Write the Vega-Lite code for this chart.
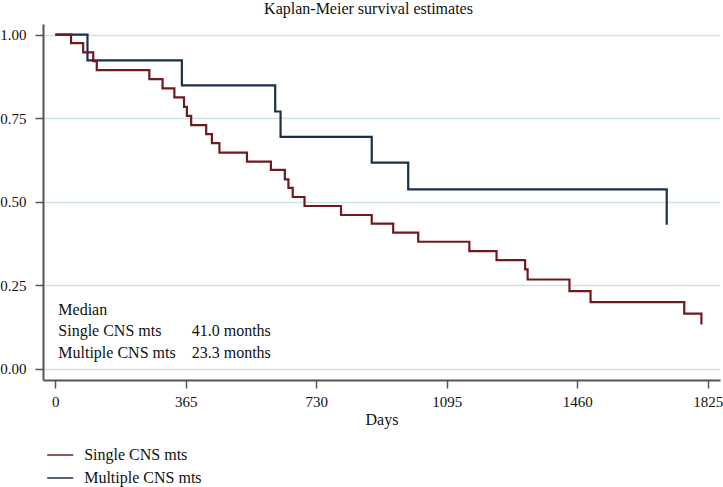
{
  "$schema": "https://vega.github.io/schema/vega-lite/v6.json",
  "width": 677,
  "height": 356,
  "autosize": {"type": "none"},
  "padding": {"left": 43, "top": 24, "right": 3, "bottom": 107},
  "background": "white",
  "config": {"font": "Liberation Serif", "view": {"stroke": null}},
  "title": {"text": "Kaplan-Meier survival estimates", "fontSize": 16, "fontWeight": "normal", "font": "Liberation Serif", "color": "#111111", "anchor": "middle", "dx": -13, "offset": 7},
  "datasets": {
    "km": [
      {"group": "Multiple CNS mts", "day": 0, "surv": 1.0},
      {"group": "Multiple CNS mts", "day": 90, "surv": 0.923},
      {"group": "Multiple CNS mts", "day": 354, "surv": 0.848},
      {"group": "Multiple CNS mts", "day": 615, "surv": 0.770},
      {"group": "Multiple CNS mts", "day": 630, "surv": 0.694},
      {"group": "Multiple CNS mts", "day": 885, "surv": 0.617},
      {"group": "Multiple CNS mts", "day": 987, "surv": 0.537},
      {"group": "Multiple CNS mts", "day": 1710, "surv": 0.431},
      {"group": "Single CNS mts", "day": 0, "surv": 1.0},
      {"group": "Single CNS mts", "day": 44, "surv": 0.975},
      {"group": "Single CNS mts", "day": 78, "surv": 0.947},
      {"group": "Single CNS mts", "day": 106, "surv": 0.921},
      {"group": "Single CNS mts", "day": 116, "surv": 0.894},
      {"group": "Single CNS mts", "day": 263, "surv": 0.867},
      {"group": "Single CNS mts", "day": 300, "surv": 0.839},
      {"group": "Single CNS mts", "day": 333, "surv": 0.812},
      {"group": "Single CNS mts", "day": 360, "surv": 0.784},
      {"group": "Single CNS mts", "day": 368, "surv": 0.757},
      {"group": "Single CNS mts", "day": 380, "surv": 0.729},
      {"group": "Single CNS mts", "day": 422, "surv": 0.702},
      {"group": "Single CNS mts", "day": 438, "surv": 0.675},
      {"group": "Single CNS mts", "day": 459, "surv": 0.647},
      {"group": "Single CNS mts", "day": 536, "surv": 0.620},
      {"group": "Single CNS mts", "day": 603, "surv": 0.595},
      {"group": "Single CNS mts", "day": 642, "surv": 0.567},
      {"group": "Single CNS mts", "day": 652, "surv": 0.541},
      {"group": "Single CNS mts", "day": 664, "surv": 0.514},
      {"group": "Single CNS mts", "day": 697, "surv": 0.487},
      {"group": "Single CNS mts", "day": 799, "surv": 0.460},
      {"group": "Single CNS mts", "day": 885, "surv": 0.434},
      {"group": "Single CNS mts", "day": 945, "surv": 0.407},
      {"group": "Single CNS mts", "day": 1015, "surv": 0.380},
      {"group": "Single CNS mts", "day": 1158, "surv": 0.352},
      {"group": "Single CNS mts", "day": 1234, "surv": 0.325},
      {"group": "Single CNS mts", "day": 1314, "surv": 0.297},
      {"group": "Single CNS mts", "day": 1321, "surv": 0.267},
      {"group": "Single CNS mts", "day": 1438, "surv": 0.232},
      {"group": "Single CNS mts", "day": 1497, "surv": 0.199},
      {"group": "Single CNS mts", "day": 1759, "surv": 0.165},
      {"group": "Single CNS mts", "day": 1807, "surv": 0.132}
    ],
    "note": [
      {"label": "Median", "day": 8.4, "surv": 0.177},
      {"label": "Single CNS mts", "day": 8.4, "surv": 0.112},
      {"label": "Multiple CNS mts", "day": 8.4, "surv": 0.048},
      {"label": "41.0 months", "day": 381.5, "surv": 0.112},
      {"label": "23.3 months", "day": 381.5, "surv": 0.048}
    ]
  },
  "layer": [
    {
      "mark": {"type": "rule", "color": "#d6e5e7", "strokeWidth": 1.5},
      "encoding": {"x": {"datum": 1859, "type": "quantitative"}}
    },
    {
      "data": {"name": "km"},
      "transform": [{"filter": "datum.group === 'Multiple CNS mts'"}],
      "mark": {"type": "line", "interpolate": "step-after", "strokeWidth": 2.2},
      "encoding": {
        "x": {
          "field": "day", "type": "quantitative",
          "scale": {"domain": [-34.4, 1859], "nice": false, "zero": false},
          "axis": {
            "values": [0, 365, 730, 1095, 1460, 1825],
            "format": "d",
            "title": "Days", "grid": false,
            "domainColor": "#555555", "domainWidth": 2,
            "tickColor": "#555555", "tickWidth": 1.5, "tickSize": 8,
            "labelFontSize": 15, "labelPadding": 6, "labelColor": "#111111", "labelFont": "Liberation Serif",
            "titleFontSize": 16, "titleFontWeight": "normal", "titleColor": "#111111", "titleFont": "Liberation Serif", "titlePadding": 2
          }
        },
        "y": {
          "field": "surv", "type": "quantitative",
          "scale": {"domain": [-0.034, 1.032], "nice": false, "zero": false},
          "axis": {
            "values": [0, 0.25, 0.5, 0.75, 1],
            "format": ".2f", "title": null, "grid": true,
            "gridColor": "#cfe3e4", "gridWidth": 1.5,
            "domainColor": "#555555", "domainWidth": 2,
            "tickColor": "#555555", "tickWidth": 1.5, "tickSize": 8,
            "labelFontSize": 15, "labelPadding": 9, "labelColor": "#111111", "labelFont": "Liberation Serif"
          }
        },
        "color": {
          "field": "group", "type": "nominal",
          "scale": {"domain": ["Single CNS mts", "Multiple CNS mts"], "range": ["#701a1e", "#1b2f4b"]},
          "legend": {
            "orient": "none", "legendX": 9.2, "legendY": 423, "title": null,
            "symbolType": "M-2,0H2", "symbolSize": 169, "symbolStrokeWidth": 1.5,
            "labelFontSize": 16, "labelOffset": 16, "rowPadding": 7,
            "labelFont": "Liberation Serif", "labelColor": "#111111"
          }
        }
      }
    },
    {
      "data": {"name": "km"},
      "transform": [{"filter": "datum.group === 'Single CNS mts'"}],
      "mark": {"type": "line", "interpolate": "step-after", "strokeWidth": 2.2},
      "encoding": {
        "x": {"field": "day", "type": "quantitative"},
        "y": {"field": "surv", "type": "quantitative"},
        "color": {"field": "group", "type": "nominal"}
      }
    },
    {
      "data": {"name": "note"},
      "mark": {"type": "text", "align": "left", "baseline": "middle", "fontSize": 16, "font": "Liberation Serif", "color": "#111111"},
      "encoding": {
        "x": {"field": "day", "type": "quantitative"},
        "y": {"field": "surv", "type": "quantitative"},
        "text": {"field": "label"}
      }
    }
  ]
}
